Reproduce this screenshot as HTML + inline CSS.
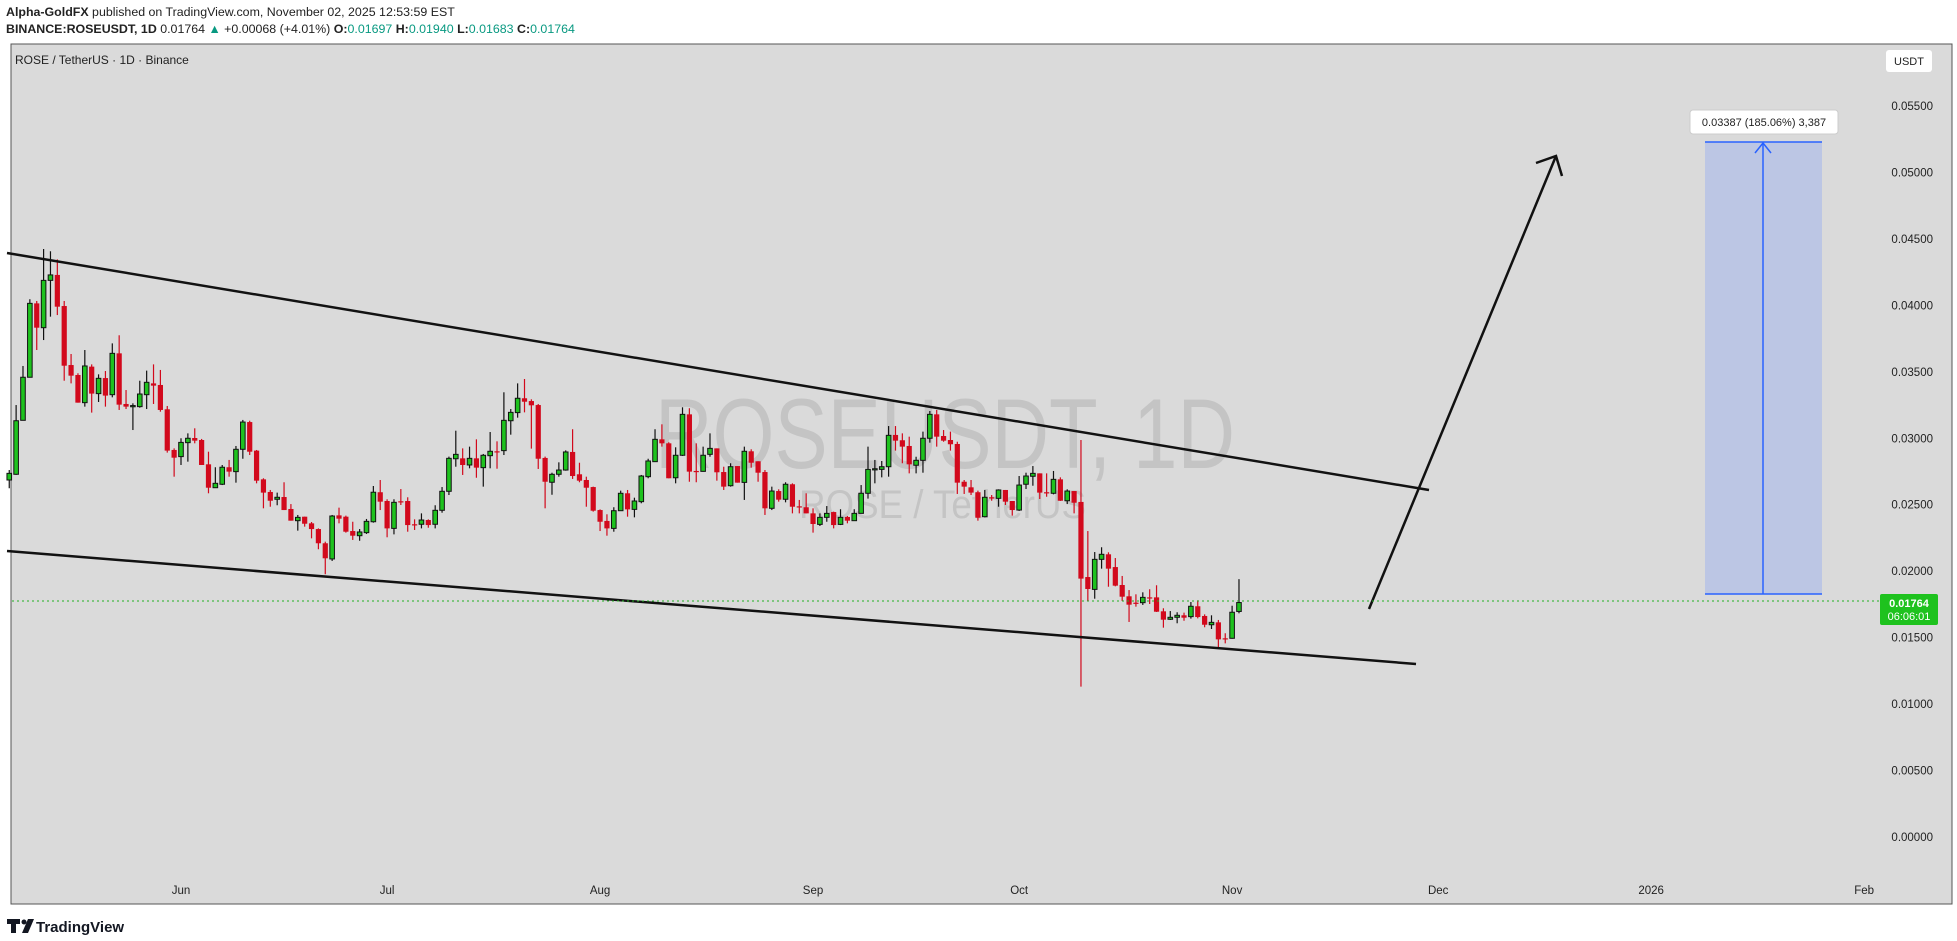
<!DOCTYPE html>
<html><head><meta charset="utf-8">
<style>
html,body{margin:0;padding:0;background:#fff;width:1957px;height:941px;overflow:hidden;font-family:"Liberation Sans",sans-serif;}
#hdr1{position:absolute;left:6px;top:5px;font-size:12.4px;color:#222;white-space:nowrap;}
#hdr2{position:absolute;left:6px;top:22px;font-size:12.4px;color:#222;white-space:nowrap;}
.tl{color:#089981}
svg{position:absolute;left:0;top:0}
</style></head><body>
<div id="hdr1"><b>Alpha-GoldFX</b> published on TradingView.com, November 02, 2025 12:53:59 EST</div>
<div id="hdr2"><b>BINANCE:ROSEUSDT, 1D</b> 0.01764 <span class="tl">▲</span> +0.00068 (+4.01%) <b>O:</b><span class="tl">0.01697</span> <b>H:</b><span class="tl">0.01940</span> <b>L:</b><span class="tl">0.01683</span> <b>C:</b><span class="tl">0.01764</span></div>
<svg id="chart" width="1957" height="941">
<rect x="11" y="44" width="1941" height="860" fill="#dadada" stroke="#555" stroke-width="1"/>
<text x="655" y="468" font-size="99" fill="#c4c4c4" textLength="580" lengthAdjust="spacingAndGlyphs">ROSEUSDT, 1D</text>
<text x="799" y="518" font-size="40" fill="#c4c4c4" textLength="287" lengthAdjust="spacingAndGlyphs">ROSE / TetherUS</text>
<text x="15" y="64" font-size="12" fill="#222">ROSE / TetherUS · 1D · Binance</text>
<g id="candles"></g>
<g id="yaxis"></g>
<g id="xaxis"></g>
<line x1="7" y1="253" x2="1429" y2="490" stroke="#111" stroke-width="2.5"/>
<line x1="7" y1="551" x2="1416" y2="664" stroke="#111" stroke-width="2.5"/>
<g stroke="#111" stroke-width="2.5" fill="none">
<line x1="1369" y1="609" x2="1556" y2="156"/>
<polyline points="1536,163 1556,156 1562,176"/>
</g>
<g>
<rect x="1705" y="142" width="117" height="452" fill="#bcc6e4"/>
<line x1="1705" y1="142" x2="1822" y2="142" stroke="#2962ff" stroke-width="1.5"/>
<line x1="1705" y1="594" x2="1822" y2="594" stroke="#2962ff" stroke-width="1.5"/>
<line x1="1763" y1="594" x2="1763" y2="143" stroke="#2962ff" stroke-width="1.5"/>
<polyline points="1755,153 1763,143 1771,153" stroke="#2962ff" stroke-width="1.5" fill="none"/>
<rect x="1690" y="110" width="148" height="24" rx="3" fill="#fff" stroke="#ccc"/>
<text x="1764" y="126" font-size="11" fill="#222" text-anchor="middle">0.03387 (185.06%) 3,387</text>
</g>
<line x1="12" y1="601" x2="1880" y2="601" stroke="#22b022" stroke-width="1" stroke-dasharray="2,3"/>
<g>
<rect x="1880" y="594" width="58" height="31" rx="2" fill="#1ec21e"/>
<text x="1909" y="607" font-size="11" fill="#fff" font-weight="bold" text-anchor="middle">0.01764</text>
<text x="1909" y="620" font-size="11" fill="#fff" text-anchor="middle">06:06:01</text>
</g>
<g>
<rect x="1886" y="50" width="46" height="22" rx="3" fill="#fff"/>
<text x="1909" y="65" font-size="11" fill="#222" text-anchor="middle">USDT</text>
</g>
<g>
<path d="M7 919h13v5h-4v9h-5v-9h-4z" fill="#131722"/>
<circle cx="24" cy="922" r="2.5" fill="#131722"/>
<path d="M28 919h6l-6 14h-6z" fill="#131722"/>
<text x="36" y="932" font-size="15" font-weight="bold" fill="#131722">TradingView</text>
</g>
</svg>
<script>
// OHLC in units of 0.00001 USDT, daily candles starting 2025-05-07
const opens=[2686,2729,3135,3459,4015,3832,4188,4229,3995,3551,3476,3268,3539,3336,3453,3328,3639,3258,3243,3238,3328,3413,3401,3218,2912,2862,2967,3002,2987,2804,2628,2654,2782,2749,2917,3122,2907,2691,2596,2541,2558,2468,2380,2410,2360,2317,2210,2092,2420,2410,2302,2267,2290,2372,2594,2528,2322,2526,2528,2353,2353,2385,2353,2458,2601,2846,2849,2799,2849,2779,2869,2902,2907,3132,3193,3301,3280,3250,2852,2669,2729,2761,2897,2729,2686,2633,2460,2378,2322,2455,2586,2465,2523,2711,2824,2992,2962,2703,2872,3180,2754,2751,2879,2924,2746,2643,2791,2668,2902,2827,2746,2473,2603,2541,2654,2488,2481,2435,2352,2405,2445,2352,2408,2380,2435,2586,2766,2766,2786,3025,2985,2942,2797,2834,3000,3180,3017,2987,2957,2673,2631,2594,2410,2556,2548,2611,2528,2460,2654,2714,2736,2594,2586,2691,2530,2603,2521,1956,1863,2089,2127,2031,1896,1811,1763,1763,1803,1803,1698,1638,1653,1668,1658,1736,1663,1597,1615,1495,1495,1697];
const highs=[2761,3250,3544,4046,4033,4424,4407,4346,4033,3634,3489,3664,3556,3481,3506,3714,3775,3363,3263,3433,3509,3556,3514,3243,2924,3000,3037,3075,2995,2899,2782,2799,2837,2942,3138,3132,2912,2699,2611,2591,2669,2505,2423,2410,2370,2322,2222,2423,2478,2418,2372,2317,2393,2641,2686,2541,2541,2618,2556,2390,2435,2390,2496,2633,2862,3057,2924,2937,2992,2882,3047,2977,3346,3220,3413,3446,3293,3258,2862,2741,2819,2909,3068,2816,2711,2636,2465,2428,2481,2606,2611,2553,2724,2846,3068,3105,2970,2932,3233,3226,2962,2937,3037,2924,2786,2812,2791,2937,2917,2827,2761,2636,2616,2669,2661,2536,2586,2473,2435,2490,2448,2466,2415,2466,2648,2937,2837,2829,3092,3092,3037,3012,2861,3050,3205,3213,3062,3050,2974,2686,2686,2606,2611,2573,2616,2611,2528,2716,2741,2791,2736,2736,2754,2706,2616,2603,2987,2302,2144,2180,2142,2099,1964,1858,1826,1841,1864,1894,1721,1700,1691,1688,1768,1781,1675,1668,1633,1533,1740,1940];
const lows=[2624,2725,3135,3459,3664,3739,3915,3927,3433,3413,3268,3238,3193,3273,3238,3308,3213,3220,3062,3230,3220,3258,3200,2892,2711,2799,2824,2962,2799,2586,2628,2648,2711,2666,2846,2874,2661,2473,2485,2496,2460,2380,2305,2335,2247,2165,1977,2077,2360,2290,2235,2229,2280,2365,2460,2255,2277,2498,2297,2310,2322,2327,2322,2440,2573,2786,2724,2774,2703,2636,2774,2771,2874,3027,3155,3195,2922,2769,2473,2575,2711,2756,2694,2669,2485,2448,2302,2267,2297,2455,2410,2405,2511,2699,2824,2937,2699,2661,2867,2673,2669,2749,2861,2681,2611,2636,2666,2536,2779,2673,2423,2460,2523,2518,2435,2435,2435,2290,2340,2372,2322,2347,2360,2380,2435,2546,2661,2706,2711,2907,2812,2736,2736,2741,2967,2937,2974,2907,2581,2581,2573,2380,2405,2530,2485,2498,2418,2453,2618,2643,2543,2560,2578,2528,2505,2435,1131,1776,1793,2019,1883,1886,1776,1618,1733,1746,1753,1693,1575,1633,1608,1627,1643,1645,1578,1565,1427,1457,1492,1683];
const closes=[2736,3132,3459,4015,3832,4188,4229,3990,3546,3471,3268,3544,3336,3451,3321,3639,3253,3238,3246,3333,3421,3396,3213,2907,2854,2969,3000,2982,2799,2628,2661,2782,2749,2917,3122,2899,2681,2591,2530,2556,2460,2380,2405,2357,2317,2210,2097,2415,2395,2297,2267,2295,2375,2594,2523,2322,2518,2521,2347,2350,2385,2347,2458,2601,2849,2879,2799,2849,2779,2872,2902,2897,3135,3195,3301,3275,3248,2846,2673,2729,2761,2897,2716,2681,2628,2455,2372,2322,2455,2586,2465,2528,2716,2829,2992,2962,2699,2872,3180,2749,2751,2872,2924,2744,2636,2786,2666,2902,2816,2741,2473,2603,2538,2654,2485,2485,2435,2355,2405,2435,2347,2405,2380,2435,2586,2766,2771,2786,3022,2982,2937,2804,2834,3000,3180,3012,2982,2955,2666,2636,2591,2402,2556,2551,2611,2523,2460,2648,2716,2736,2591,2591,2691,2530,2603,2515,1944,1866,2089,2127,2019,1891,1808,1748,1761,1803,1801,1695,1635,1653,1668,1650,1736,1655,1597,1615,1487,1492,1691,1764];
const firstDay=-25; // days relative to Jun 1 2025
const priceTicks=["0.00000","0.00500","0.01000","0.01500","0.02000","0.02500","0.03000","0.03500","0.04000","0.04500","0.05000","0.05500"];
const priceTickValues=[0,0.005,0.01,0.015,0.02,0.025,0.03,0.035,0.04,0.045,0.05,0.055];
const timeLabels=["Jun","Jul","Aug","Sep","Oct","Nov","Dec","2026","Feb"];
const timeLabelDays=[0,30,61,92,122,153,183,214,245];
const UNIT=1e-5;
const NS="http://www.w3.org/2000/svg";
function xDay(d){return 181+d*6.87;}
function yPrice(p){return 837-p*13291;}
function mk(tag,attrs,parent){const e=document.createElementNS(NS,tag);for(const k in attrs)e.setAttribute(k,attrs[k]);parent.appendChild(e);return e;}
const cg=document.getElementById('candles');
for(let i=0;i<opens.length;i++){
  const x=xDay(firstDay+i),o=opens[i]*UNIT,h=highs[i]*UNIT,l=lows[i]*UNIT,c=closes[i]*UNIT;
  const up=c>=o;
  const g=mk('g',{},cg);
  
  
  mk('line',{x1:x,x2:x,y1:yPrice(h),y2:yPrice(l),stroke:up?'#111':'#d2091c','stroke-width':1.2},g);
  const top=yPrice(Math.max(o,c)),bot=yPrice(Math.min(o,c));
  const hgt=Math.max(bot-top,1.2);
  if(up) mk('rect',{x:x-2.3,y:top,width:4.6,height:hgt,fill:'#1ec21e',stroke:'#111','stroke-width':1},g);
  else mk('rect',{x:x-2.6,y:top,width:5.2,height:hgt,fill:'#d2091c'},g);
}
const ya=document.getElementById('yaxis');
for(let i=0;i<priceTicks.length;i++){
  const t=mk('text',{x:1933,y:yPrice(priceTickValues[i])+4,'font-size':11.5,fill:'#222','text-anchor':'end'},ya);
  t.textContent=priceTicks[i];
  
  
}
const xa=document.getElementById('xaxis');
for(let i=0;i<timeLabels.length;i++){
  const t=mk('text',{x:xDay(timeLabelDays[i]),y:894,'font-size':11.5,fill:'#222','text-anchor':'middle'},xa);
  t.textContent=timeLabels[i];
  
  
}
</script>
</body></html>
